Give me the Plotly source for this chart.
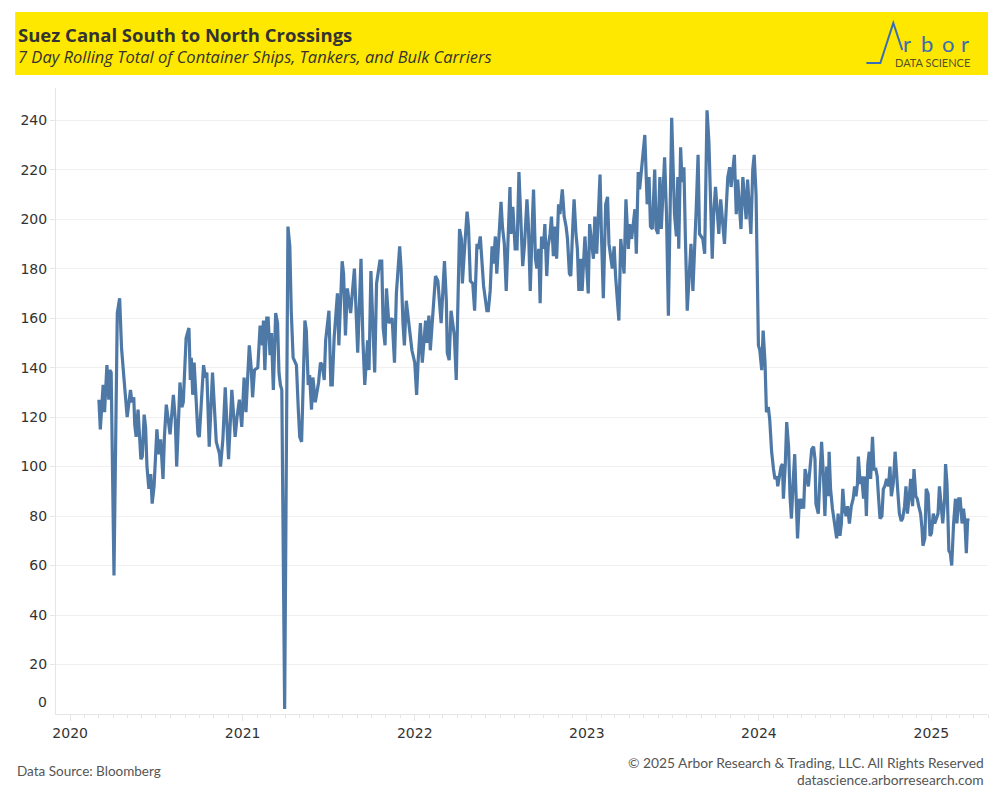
import pandas as pd
import plotly.graph_objects as go

# ---- data (days since 2020-01-01, 7-day rolling total) ----
day_offsets = [
    61, 64, 70, 73, 78, 82, 84, 87, 93, 100, 105, 109, 114, 121, 128, 131, 135, 137, 140, 144,
    147, 150, 153, 157, 160, 163, 167, 171, 174, 178, 184, 188, 192, 197, 200, 204, 208, 212, 219, 223,
    226, 233, 237, 240, 246, 252, 255, 257, 260, 263, 267, 271, 274, 283, 287, 290, 295, 302, 310, 313,
    317, 319, 324, 329, 336, 343, 346, 350, 354, 359, 364, 369, 373, 380, 384, 387, 391, 398, 403, 408,
    410, 413, 417, 420, 424, 427, 431, 436, 440, 443, 446, 449, 455, 462, 466, 469, 473, 480, 484, 487,
    491, 494, 498, 501, 505, 508, 512, 515, 520, 527, 531, 535, 539, 542, 546, 549, 553, 556, 560, 567,
    570, 577, 580, 584, 588, 595, 603, 610, 617, 621, 625, 631, 634, 638, 642, 646, 650, 657, 661, 664,
    668, 671, 676, 683, 688, 692, 699, 702, 706, 709, 713, 720,
    725, 731, 735, 738, 743, 747, 754, 757, 761, 764, 770, 775, 780, 787, 794, 798, 800, 804, 808, 815,
    819, 826, 830, 832, 837, 842, 845, 849, 854, 858, 863, 866, 870, 877, 884, 887, 891, 895, 898, 902,
    905, 910, 914, 917, 921, 925, 928, 933, 935, 939, 944, 948, 952, 956, 960, 964, 969, 972, 976, 981,
    983, 987, 990, 994, 997, 1000, 1004, 1007, 1011, 1014, 1018, 1021, 1025, 1028, 1032, 1036, 1039, 1044, 1048, 1052,
    1055, 1059, 1062, 1066, 1069, 1073, 1076, 1079, 1083, 1086,
    1092, 1099, 1102, 1110, 1113, 1117, 1124, 1127, 1131, 1136, 1140, 1143, 1150, 1154, 1157, 1164, 1168, 1175, 1179, 1184,
    1187, 1191, 1198, 1201, 1205, 1208, 1214, 1219, 1224, 1228, 1231, 1235, 1240, 1243, 1247, 1251, 1254, 1261, 1265, 1269,
    1276, 1279, 1282, 1286, 1289, 1291, 1295, 1298, 1302, 1305, 1309, 1317, 1321, 1328, 1332, 1335, 1342, 1346, 1349, 1351,
    1355, 1358, 1362, 1365, 1369, 1376, 1380, 1388, 1391, 1395, 1399, 1402, 1409, 1413, 1416, 1423, 1427, 1434, 1437, 1444,
    1448, 1451, 1455, 1458,
    1460, 1463, 1467, 1470, 1474, 1477, 1481, 1484, 1488, 1492, 1495, 1499, 1501, 1508, 1511, 1513, 1517, 1520, 1524, 1527,
    1530, 1534, 1537, 1539, 1543, 1547, 1550, 1554, 1556, 1559, 1566, 1573, 1577, 1580, 1582, 1587, 1591, 1594, 1598, 1601,
    1605, 1608, 1610, 1613, 1617, 1621, 1624, 1626, 1629, 1633, 1636, 1639, 1642, 1646, 1649, 1653, 1657, 1661, 1664, 1667,
    1670, 1672, 1676, 1679, 1683, 1686, 1689, 1692, 1695, 1698, 1702, 1705, 1709, 1712, 1715, 1718, 1722, 1725, 1728, 1732,
    1736, 1739, 1742, 1746, 1750, 1753, 1756, 1759, 1763, 1766, 1770, 1773, 1776, 1780, 1783, 1787, 1790, 1794, 1797, 1800,
    1804, 1807, 1809, 1813, 1816, 1820, 1824, 1827, 1831, 1834, 1841, 1844, 1848, 1851, 1855, 1857, 1860, 1864, 1867, 1870,
    1874, 1878, 1881, 1885, 1888, 1892, 1895, 1898, 1901, 1904, 1905,
]

crossings = [
    127, 115, 133, 122, 141, 127, 139, 138, 56, 162, 168, 148, 136, 120, 131, 126, 128, 117, 112, 123,
    113, 103, 104, 121, 116, 100, 91, 97, 85, 92, 115, 105, 111, 95, 112, 125, 119, 113, 129, 119,
    100, 134, 124, 126, 152, 156, 135, 144, 129, 142, 128, 113, 112, 141, 136, 138, 108, 138, 110, 108,
    105, 100, 111, 132, 103, 131, 124, 112, 120, 127, 116, 136, 122, 149, 140, 128, 139, 140, 157, 149,
    159, 139, 160, 160, 145, 154, 131, 162, 158, 138, 133, 131, 2, 197, 189, 163, 144, 141, 123, 112,
    110, 133, 159, 155, 133, 137, 123, 136, 126, 134, 142, 141, 135, 151, 160, 163, 133, 133, 152, 170,
    149, 183, 178, 153, 172, 162, 180, 146, 184, 151, 133, 151, 139, 179, 158, 138, 174, 183, 183, 156,
    149, 172, 158, 160, 142, 170, 189, 180, 158, 149, 167, 156,
    147, 142, 129, 142, 158, 142, 159, 150, 161, 147, 166, 177, 175, 158, 183, 167, 146, 143, 163, 153,
    135, 196, 192, 174, 189, 203, 197, 175, 174, 163, 190, 188, 193, 173, 163, 163, 171, 189, 182, 193,
    178, 197, 207, 197, 190, 171, 184, 213, 194, 205, 188, 188, 219, 196, 181, 190, 208, 198, 171, 202,
    212, 184, 180, 188, 166, 193, 188, 198, 177, 189, 194, 201, 185, 197, 184, 206, 202, 212, 201, 197,
    192, 178, 177, 196, 208, 194, 188, 171, 184, 171,
    193, 170, 198, 184, 201, 186, 218, 194, 168, 206, 209, 190, 180, 189, 177, 159, 192, 178, 208, 188,
    198, 192, 204, 186, 219, 212, 223, 234, 206, 217, 197, 196, 220, 196, 194, 217, 196, 225, 202, 161,
    241, 221, 202, 193, 217, 188, 229, 215, 221, 193, 163, 190, 171, 204, 226, 194, 192, 186, 216, 244,
    231, 206, 184, 202, 213, 194, 208, 190, 200, 217, 221, 213, 226, 202, 216, 196, 217, 200, 216, 194,
    220, 226, 210, 155,
    149, 147, 139, 155, 142, 122, 124, 119, 106, 99, 95, 96, 92, 100, 101, 87, 101, 118, 108, 88,
    79, 95, 105, 93, 71, 87, 83, 87, 83, 99, 92, 107, 108, 103, 85, 81, 100, 110, 96, 80,
    100, 88, 106, 91, 83, 77, 75, 71, 81, 72, 77, 91, 83, 80, 84, 77, 84, 87, 92, 88,
    93, 104, 93, 96, 87, 96, 80, 101, 106, 95, 112, 99, 99, 96, 87, 79, 80, 91, 92, 95,
    92, 100, 88, 93, 106, 95, 89, 81, 78, 79, 84, 92, 81, 88, 95, 84, 99, 88, 87, 84,
    81, 75, 68, 71, 91, 89, 72, 73, 81, 77, 81, 92, 84, 77, 87, 101, 93, 66, 65, 60,
    77, 87, 77, 87, 87, 77, 83, 78, 65, 79, 78,
]

y_tick_values = [20, 40, 60, 80, 100, 120, 140, 160, 180, 200, 220, 240]
x_range = ["2019-12-02", "2025-05-01"]
y_range = [0, 253]

dates = pd.Timestamp("2020-01-01") + pd.to_timedelta(day_offsets, unit="D")

# ---- layout helpers (window pixels -> paper coords; page body has an 8px margin) ----
OFF = 8
W, H = 1000 - OFF, 800 - OFF
L, R, T, B = 53 - OFF, 988 - OFF, 88 - OFF, 714 - OFF
def px(x):
    return (x - OFF - L) / (R - L)
def py(y):
    return (B - (y - OFF)) / (B - T)

LINE_BLUE = "#4e79a7"
TXT = "#333333"
GRID = "#f0f0f0"
AXIS_LINE = "#e6e6e6"

fig = go.Figure()
fig.add_trace(go.Scatter(
    x=dates, y=crossings, mode="lines",
    line=dict(color=LINE_BLUE, width=3.2),
    hoverinfo="x+y", showlegend=False,
))

fig.update_layout(
    width=W, height=H,
    margin=dict(l=L, r=W - R, t=T, b=H - B),
    paper_bgcolor="white", plot_bgcolor="white",
    font=dict(family="DejaVu Sans", color=TXT, size=14),
    showlegend=False,
)

fig.update_xaxes(
    type="date", range=x_range,
    tick0="2020-01-01", dtick="M12", tickformat="%Y",
    ticks="outside", ticklen=6, tickcolor=AXIS_LINE, tickwidth=1,
    minor=dict(dtick="M1", ticks="outside", ticklen=3, tickcolor=AXIS_LINE, showgrid=False),
    showgrid=False, showline=True, linecolor=AXIS_LINE, linewidth=1,
    tickfont=dict(family="DejaVu Sans", size=14, color=TXT),
    zeroline=False,
)
fig.update_yaxes(
    range=y_range, tickvals=y_tick_values,
    ticks="outside", ticklen=5, tickcolor=AXIS_LINE,
    showgrid=True, gridcolor=GRID, gridwidth=1,
    showline=True, linecolor=AXIS_LINE, linewidth=1,
    tickfont=dict(family="DejaVu Sans", size=14, color=TXT),
    zeroline=False,
)

# zero label (nudged up as in the reference)
fig.add_annotation(x=0, xref="paper", xanchor="right", xshift=-7,
                   y=0, yref="y", yanchor="bottom", yshift=2,
                   text="0", showarrow=False,
                   font=dict(family="DejaVu Sans", size=14, color=TXT))

# ---- header banner ----
fig.add_shape(type="rect", xref="paper", yref="paper",
              x0=px(12), x1=px(988), y0=py(75), y1=py(12),
              fillcolor="#FFE800", line=dict(width=0), layer="below")
fig.add_annotation(x=px(13), y=py(34), xref="paper", yref="paper",
                   xanchor="left", yanchor="middle", showarrow=False,
                   text="<b>Suez Canal South to North Crossings</b>",
                   font=dict(family="Open Sans", size=18.5, color=TXT))
fig.add_annotation(x=px(13), y=py(57), xref="paper", yref="paper",
                   xanchor="left", yanchor="middle", showarrow=False,
                   text="<i>7 Day Rolling Total of Container Ships, Tankers, and Bulk Carriers</i>",
                   font=dict(family="Open Sans", size=16.5, color=TXT))

# ---- logo ----
LOGO_BLUE = "#3a6db5"
fig.add_shape(type="path", xref="paper", yref="paper",
              path=f"M {px(866)},{py(63)} L {px(880)},{py(63)} L {px(893)},{py(23)} L {px(902)},{py(50)}",
              line=dict(color=LOGO_BLUE, width=2))
for ch, cx in zip(["r", "b", "o", "r"], [907, 926.5, 948, 964.5]):
    fig.add_annotation(x=px(cx), y=py(43.5), xref="paper", yref="paper",
                       xanchor="center", yanchor="middle", showarrow=False,
                       text=ch, font=dict(family="Lato", size=22, color=LOGO_BLUE))
fig.add_annotation(x=px(932), y=py(62.5), xref="paper", yref="paper",
                   xanchor="center", yanchor="middle", showarrow=False,
                   text="DATA SCIENCE", font=dict(family="Lato", size=11, color="#55532e"))

# ---- footer ----
FOOT = "#555555"
fig.add_annotation(x=px(12), y=py(771), xref="paper", yref="paper",
                   xanchor="left", yanchor="middle", showarrow=False,
                   text="Data Source: Bloomberg", font=dict(family="Lato", size=13.5, color=FOOT))
fig.add_annotation(x=px(986), y=py(762), xref="paper", yref="paper",
                   xanchor="right", yanchor="middle", showarrow=False,
                   text="© 2025 Arbor Research &amp; Trading, LLC. All Rights Reserved",
                   font=dict(family="Lato", size=13.8, color=FOOT))
fig.add_annotation(x=px(986), y=py(779), xref="paper", yref="paper",
                   xanchor="right", yanchor="middle", showarrow=False,
                   text="datascience.arborresearch.com",
                   font=dict(family="Lato", size=13.8, color=FOOT))

fig.write_html("out.html")
